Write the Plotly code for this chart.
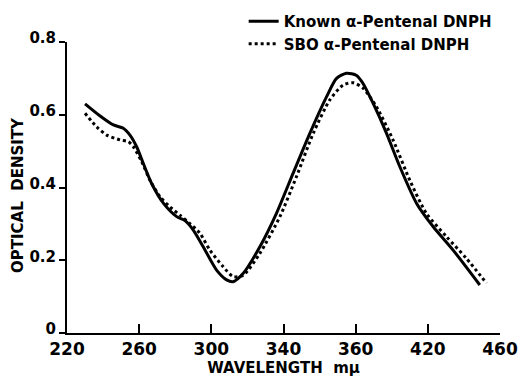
import plotly.graph_objects as go

# Known α-Pentenal DNPH (solid)
known_x = [230, 238, 245.7, 251.2, 254.9, 258.6, 262.3, 266.9, 273.4, 280.8, 285.4, 290, 295.5, 302.9,
           308.5, 312.1, 317.7, 326.9, 336.1, 345.3, 354.6, 363.9, 369.4, 374.9, 380.5, 384.1, 389.7,
           397.1, 404.5, 413.7, 423, 434, 448.8]
known_y = [0.63, 0.598, 0.572, 0.563, 0.544, 0.512, 0.466, 0.411, 0.357, 0.32, 0.309, 0.283, 0.237, 0.173,
           0.146, 0.141, 0.164, 0.237, 0.329, 0.439, 0.549, 0.65, 0.70, 0.714, 0.708, 0.686, 0.631,
           0.549, 0.457, 0.357, 0.292, 0.228, 0.132]

# SBO α-Pentenal DNPH (dotted)
sbo_x = [230, 236.4, 242, 249.4, 254, 256.8, 261.4, 266, 271.5, 277, 282.6, 288.1, 293.7, 299.2,
         306.6, 312.1, 317.7, 326.9, 338, 347.2, 356.5, 365.7, 373.1, 378.6, 384.1, 391.5, 400.7,
         410, 419.2, 430.3, 441.4, 452.5]
sbo_y = [0.604, 0.567, 0.544, 0.531, 0.526, 0.512, 0.471, 0.42, 0.375, 0.347, 0.324, 0.301, 0.274, 0.228,
         0.182, 0.155, 0.159, 0.219, 0.32, 0.43, 0.549, 0.641, 0.682, 0.688, 0.673, 0.622, 0.531,
         0.42, 0.329, 0.265, 0.205, 0.137]

x_tickvals = [220, 260, 300, 340, 380, 420, 460]
x_ticktext = ["220", "260", "300", "340", "360", "420", "460"]
y_tickvals = [0, 0.2, 0.4, 0.6, 0.8]
y_ticktext = ["0", "0.2", "0.4", "0.6", "0.8"]

FONT = "DejaVu Sans"

# layout geometry (pixels)
W, H = 518, 385
ML, MR, MT, MB = 67, 18, 5, 52
plot_h = H - MT - MB
y_top_frac = (H - MB - 42) / plot_h   # plot top at 42 px from the top

fig = go.Figure()
fig.add_trace(go.Scatter(x=known_x, y=known_y, mode="lines", name="Known α-Pentenal DNPH",
                         line=dict(color="black", width=3, shape="spline", smoothing=0.7)))
fig.add_trace(go.Scatter(x=sbo_x, y=sbo_y, mode="lines", name="SBO α-Pentenal DNPH",
                         line=dict(color="black", width=3, dash="dot", shape="spline", smoothing=0.7)))

fig.update_layout(
    width=W, height=H,
    margin=dict(l=ML, r=MR, t=MT, b=MB, autoexpand=False),
    paper_bgcolor="white", plot_bgcolor="white",
    font=dict(family=FONT, size=15, color="black", weight="bold"),
    legend=dict(x=0.408, y=1.0, xanchor="left", yanchor="top",
                bgcolor="rgba(0,0,0,0)", font=dict(size=15, family=FONT, weight="bold"),
                tracegroupgap=0),
    xaxis=dict(range=[220, 460], tickvals=x_tickvals, ticktext=x_ticktext, automargin=False,
               showgrid=False, zeroline=False, showline=True, linecolor="black", linewidth=2,
               ticks="inside", ticklen=9, tickwidth=2, tickcolor="black",
               tickfont=dict(size=17, family=FONT, weight="bold"),
               title=dict(text="WAVELENGTH  mμ", standoff=3,
                          font=dict(size=15, family=FONT, weight="bold"))),
    yaxis=dict(range=[0, 0.8], domain=[0, y_top_frac], tickvals=y_tickvals, ticktext=y_ticktext,
               automargin=False, ticklabelshift=-4,
               showgrid=False, zeroline=False, showline=True, linecolor="black", linewidth=2,
               ticks="outside", ticklen=6, tickwidth=2, tickcolor="black",
               tickfont=dict(size=15, family=FONT, weight="bold")),
    annotations=[dict(text="OPTICAL  DENSITY", xref="paper", yref="paper",
                      x=-49 / (W - ML - MR), y=(H - MB - 195) / plot_h,
                      xanchor="center", yanchor="middle", textangle=-90, showarrow=False,
                      font=dict(size=15, family=FONT, weight="bold"))],
)

fig.write_html("out.html")
